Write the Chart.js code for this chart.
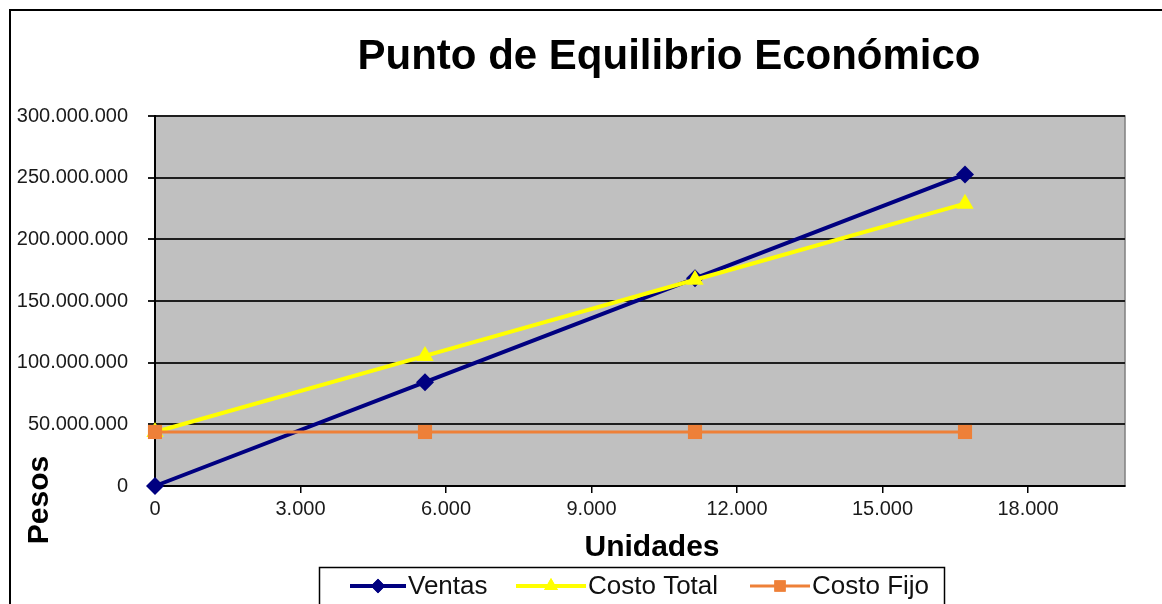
<!DOCTYPE html>
<html>
<head>
<meta charset="utf-8">
<title>Punto de Equilibrio Económico</title>
<script src="https://cdn.jsdelivr.net/npm/chart.js@4/dist/chart.umd.min.js"></script>
<style>
  html, body { margin: 0; padding: 0; background: #ffffff; }
  #wrap { width: 1162px; height: 604px; }
</style>
</head>
<body>
<div id="wrap"><canvas id="chart" width="1162" height="604"></canvas></div>
<script>
// Units produced / sold
const unidades = [0, 5567, 11134, 16701];
// Pesos for each series at those units
const ventas = [0, 84200000, 168400000, 252600000];
const costoTotal = [43800000, 105500000, 167200000, 228900000];
const costoFijo = [43800000, 43800000, 43800000, 43800000];

// Axis tick values
const xTicks = [0, 3000, 6000, 9000, 12000, 15000, 18000];
const yTicks = [0, 50000000, 100000000, 150000000, 200000000, 250000000, 300000000];

const seriesNames = ['Ventas', 'Costo Total', 'Costo Fijo'];
const titulo = 'Punto de Equilibrio Económico';
const tituloX = 'Unidades';
const tituloY = 'Pesos';

const NAVY = '#000080';
const YELLOW = '#FFFF00';
const ORANGE = '#EE8038';
const FONT = '"Liberation Sans", Arial, sans-serif';

function puntos(ys) {
  return unidades.map((u, i) => ({ x: u, y: ys[i] }));
}

// Thousands separated with dots: 300.000.000
function miles(v) {
  return String(Math.round(v)).replace(/\B(?=(\d{3})+(?!\d))/g, '.');
}

const styles = [
  { color: NAVY, pointStyle: 'rectRot', radius: 9, width: 4 },
  { color: YELLOW, pointStyle: 'triangle', radius: 10, width: 4 },
  { color: ORANGE, pointStyle: 'rect', radius: 10, width: 3 }
];

const marcoPlugin = {
  id: 'marco',
  beforeDraw(chart) {
    const { ctx, chartArea: a } = chart;
    ctx.save();
    ctx.fillStyle = '#ffffff';
    ctx.fillRect(0, 0, chart.width, chart.height);
    // outer frame (top and left edges visible)
    ctx.strokeStyle = '#000000';
    ctx.lineWidth = 2;
    ctx.beginPath();
    ctx.moveTo(10, chart.height);
    ctx.lineTo(10, 10);
    ctx.lineTo(chart.width, 10);
    ctx.stroke();
    // plot area
    ctx.fillStyle = '#C0C0C0';
    ctx.fillRect(a.left, a.top, a.right - a.left, a.bottom - a.top);
    ctx.strokeStyle = '#808080';
    ctx.lineWidth = 1.5;
    ctx.strokeRect(a.left, a.top, a.right - a.left, a.bottom - a.top);
    ctx.restore();
  },
  afterDraw(chart) {
    const { ctx } = chart;
    ctx.save();
    ctx.fillStyle = '#000000';
    // title
    ctx.font = 'bold 42px ' + FONT;
    ctx.textAlign = 'center';
    ctx.textBaseline = 'alphabetic';
    ctx.fillText(titulo, 669, 69);
    // x axis title
    ctx.font = 'bold 30px ' + FONT;
    ctx.textBaseline = 'middle';
    ctx.fillText(tituloX, 652, 548);
    // y axis title
    ctx.save();
    ctx.translate(40, 500);
    ctx.rotate(-Math.PI / 2);
    ctx.fillText(tituloY, 0, 0);
    ctx.restore();

    // legend
    const top = 567;
    ctx.strokeStyle = '#000000';
    ctx.lineWidth = 1.5;
    ctx.strokeRect(319.5, top + 0.5, 625, 60);
    const ly = 586;
    const items = [
      { x0: 350, x1: 406, tx: 408 },
      { x0: 516, x1: 586, tx: 588 },
      { x0: 750, x1: 810, tx: 812 }
    ];
    ctx.font = '26px ' + FONT;
    ctx.textAlign = 'left';
    items.forEach((it, i) => {
      const s = styles[i];
      ctx.strokeStyle = s.color;
      ctx.lineWidth = s.width;
      ctx.beginPath();
      ctx.moveTo(it.x0, ly);
      ctx.lineTo(it.x1, ly);
      ctx.stroke();
      ctx.fillStyle = s.color;
      Chart.helpers.drawPoint(ctx, {
        pointStyle: s.pointStyle,
        radius: s.radius * 0.8,
        borderWidth: 0,
        rotation: 0
      }, (it.x0 + it.x1) / 2, ly);
      ctx.fill();
      ctx.fillStyle = '#111111';
      ctx.fillText(seriesNames[i], it.tx, ly + 1);
    });
    ctx.restore();
  }
};

const datasets = [ventas, costoTotal, costoFijo].map((ys, i) => ({
  label: seriesNames[i],
  data: puntos(ys),
  showLine: true,
  borderColor: styles[i].color,
  backgroundColor: styles[i].color,
  borderWidth: styles[i].width,
  pointStyle: styles[i].pointStyle,
  pointRadius: styles[i].radius,
  pointBorderWidth: 0,
  pointBackgroundColor: styles[i].color,
  tension: 0,
  clip: false,
  order: 3 - i
}));

new Chart(document.getElementById('chart'), {
  type: 'scatter',
  data: { datasets },
  plugins: [marcoPlugin],
  options: {
    responsive: false,
    animation: false,
    devicePixelRatio: 1,
    layout: { padding: { top: 116, right: 37, left: 0, bottom: 0 } },
    plugins: {
      legend: { display: false },
      title: { display: false },
      tooltip: { enabled: false }
    },
    scales: {
      x: {
        type: 'linear',
        min: 0,
        max: 20000,
        afterBuildTicks: s => { s.ticks = xTicks.map(v => ({ value: v })); },
        afterFit: s => { s.height = 118; },
        border: { display: true, color: '#000000', width: 2 },
        grid: { drawOnChartArea: false, drawTicks: true, tickLength: 7, color: '#000000', lineWidth: 1.5 },
        ticks: {
          padding: 4,
          color: '#1a1a1a',
          font: { family: FONT, size: 20 },
          callback: v => miles(v)
        }
      },
      y: {
        type: 'linear',
        min: 0,
        max: 300000000,
        afterBuildTicks: s => { s.ticks = yTicks.map(v => ({ value: v })); },
        afterFit: s => { s.width = 155; },
        border: { display: true, color: '#000000', width: 2 },
        grid: { drawTicks: true, tickLength: 7, color: '#1e1e1e', lineWidth: 2 },
        ticks: {
          padding: 20,
          color: '#1a1a1a',
          font: { family: FONT, size: 20 },
          callback: v => miles(v)
        }
      }
    }
  }
});
</script>
</body>
</html>
